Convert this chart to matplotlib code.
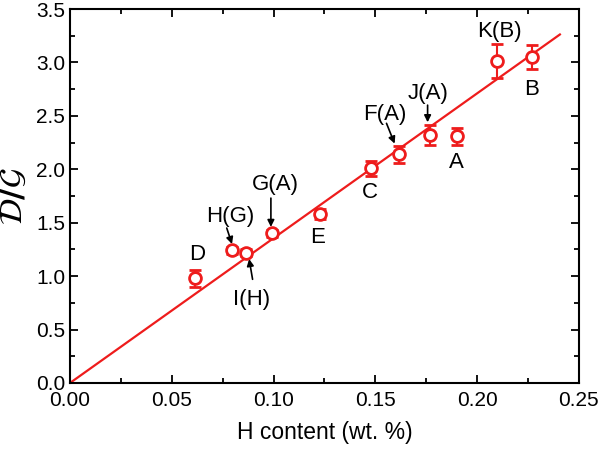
import numpy as np
import matplotlib
matplotlib.use('Agg')
import matplotlib.pyplot as plt
from matplotlib.ticker import MultipleLocator

# donnees
noms = ['D', 'H(G)', 'I(H)', 'G(A)', 'E', 'C', 'F(A)', 'J(A)', 'A', 'K(B)', 'B']
h_content = [0.0614, 0.0796, 0.0866, 0.0992, 0.1228, 0.1478, 0.1618, 0.1768, 0.1900, 0.2096, 0.2268]
d_sur_g = [0.98, 1.24, 1.22, 1.40, 1.58, 2.01, 2.14, 2.32, 2.31, 3.01, 3.05]
erreurs = [0.08, 0.03, 0.03, 0.03, 0.05, 0.07, 0.08, 0.09, 0.08, 0.16, 0.11]

# droite d'ajustement (passe par l'origine)
pente = 13.55
x_fit = [0.0, 0.2407]

# positions des etiquettes (x, y) et fleches (depart -> arrivee)
pos_labels = {
    'D': (0.0624, 1.20), 'H(G)': (0.0786, 1.56), 'I(H)': (0.0892, 0.78),
    'G(A)': (0.1007, 1.86), 'E': (0.1218, 1.36), 'C': (0.1473, 1.78),
    'F(A)': (0.1547, 2.51), 'J(A)': (0.1760, 2.71), 'A': (0.1900, 2.06),
    'K(B)': (0.2112, 3.29), 'B': (0.2268, 2.75),
}
fleches = {
    'H(G)': ((0.0770, 1.45), (0.0796, 1.30)),
    'I(H)': ((0.0897, 0.97), (0.0880, 1.16)),
    'G(A)': ((0.0987, 1.73), (0.0987, 1.46)),
    'F(A)': ((0.1555, 2.43), (0.1595, 2.24)),
    'J(A)': ((0.1757, 2.60), (0.1757, 2.44)),
}

plt.rcParams['font.family'] = ['Liberation Sans', 'DejaVu Sans']
rouge = '#ee1c1c'

fig = plt.figure(figsize=(6, 4.5), dpi=100)
ax = fig.add_axes([0.1167, 0.149, 0.848, 0.831])

ax.plot(x_fit, [pente * x for x in x_fit], color=rouge, lw=1.6, zorder=2)
ax.errorbar(h_content, d_sur_g, yerr=erreurs, fmt='o', color=rouge, mfc='white',
            mec=rouge, mew=2, ms=8.5, capsize=4, elinewidth=1.5, capthick=1.5, zorder=3)

for nom in noms:
    x, y = pos_labels[nom]
    ax.text(x, y, nom, ha='center', va='center', fontsize=16)

for nom, (debut, fin) in fleches.items():
    ax.annotate('', xy=fin, xytext=debut,
                arrowprops=dict(arrowstyle='-|>', color='black', lw=1.2,
                                mutation_scale=10, shrinkA=0, shrinkB=0))

ax.set_xlim(0, 0.25)
ax.set_ylim(0, 3.5)
ax.xaxis.set_major_locator(MultipleLocator(0.05))
ax.xaxis.set_minor_locator(MultipleLocator(0.025))
ax.yaxis.set_major_locator(MultipleLocator(0.5))
ax.yaxis.set_minor_locator(MultipleLocator(0.25))
ax.set_xticklabels([f'{v:.2f}' for v in ax.get_xticks()])
ax.set_yticklabels([f'{v:.1f}' for v in ax.get_yticks()])
ax.tick_params(which='both', direction='in', top=True, right=True, width=1.3, labelsize=15)
ax.tick_params(axis='x', pad=6)
ax.tick_params(which='major', length=6)
ax.tick_params(which='minor', length=3.5)
for s in ax.spines.values():
    s.set_linewidth(1.5)

ax.set_xlabel('H content (wt. %)', fontsize=16.5, labelpad=8)
ax.set_ylabel(r'$\mathbf{\mathcal{D}/\mathcal{G}}$', fontsize=23, labelpad=5)

fig.savefig('out.png', dpi=100)
